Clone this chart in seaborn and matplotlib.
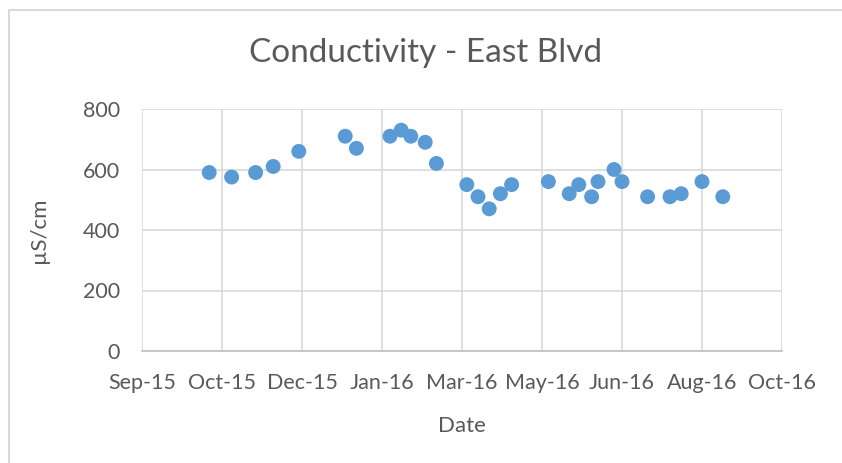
import matplotlib
matplotlib.use("Agg")
import matplotlib.pyplot as plt
import matplotlib.dates as mdates
from matplotlib.lines import Line2D
import seaborn as sns
import pandas as pd
import numpy as np

# sample dates and conductivity readings
dates = ["2015-10-13", "2015-10-27", "2015-11-11", "2015-11-22", "2015-12-08",
         "2016-01-06", "2016-01-13", "2016-02-03", "2016-02-10", "2016-02-16",
         "2016-02-25", "2016-03-03", "2016-03-22", "2016-03-29", "2016-04-05",
         "2016-04-12", "2016-04-19", "2016-05-12", "2016-05-25", "2016-05-31",
         "2016-06-08", "2016-06-12", "2016-06-22", "2016-06-27", "2016-07-13",
         "2016-07-27", "2016-08-03", "2016-08-16", "2016-08-29"]
conductivity = [590, 575, 590, 610, 660,
                710, 670, 710, 730, 710,
                690, 620, 550, 510, 470,
                520, 550, 560, 520, 550,
                510, 560, 600, 560, 510,
                510, 520, 560, 510]
y_ticks = [0, 200, 400, 600, 800]

df = pd.DataFrame({"Date": pd.to_datetime(dates), "uS": conductivity})

sns.set_style("white")
plt.rcParams["font.family"] = ["Lato", "DejaVu Sans"]
txt = "#595959"
grid = "#d9d9d9"

fig = plt.figure(figsize=(8.42, 4.63), dpi=100)
ax = fig.add_axes([142 / 842, (463 - 351) / 463, 640 / 842, 242 / 463])

sns.scatterplot(data=df, x="Date", y="uS", ax=ax, color="#5b9bd5",
                s=115, edgecolor="none", zorder=3)

# excel-style date axis: 50 day major unit from 1 Sep 2015
start = pd.Timestamp("2015-09-01")
xticks = [start + pd.Timedelta(days=50 * i) for i in range(9)]
ax.set_xlim(mdates.date2num(xticks[0]), mdates.date2num(xticks[-1]))
ax.set_xticks(mdates.date2num(xticks))
ax.set_xticklabels([t.strftime("%b-%y") for t in xticks])
ax.set_ylim(0, 800)
ax.set_yticks(y_ticks)

ax.grid(True, color=grid, linewidth=1.2)
for s in ["top", "right", "left"]:
    ax.spines[s].set_visible(False)
ax.spines["bottom"].set_color("#bfbfbf")
ax.spines["bottom"].set_linewidth(1.2)
ax.tick_params(axis="both", length=0, labelsize=15.5, colors=txt)
ax.tick_params(axis="x", pad=15.5)
ax.tick_params(axis="y", pad=16)

ax.set_xlabel("Date", fontsize=16, color=txt, labelpad=17)
ax.set_ylabel("µS/cm", fontsize=16, color=txt, labelpad=24)
fig.text(426 / 842, 1 - 53 / 463, "Conductivity - East Blvd", ha="center",
         va="center", fontsize=24, color=txt)

# chart area border (top and left visible)
fig.add_artist(Line2D([9 / 842, 1], [1 - 10 / 463, 1 - 10 / 463],
                      color=grid, linewidth=1.5, transform=fig.transFigure))
fig.add_artist(Line2D([9 / 842, 9 / 842], [0, 1 - 10 / 463],
                      color=grid, linewidth=1.5, transform=fig.transFigure))

fig.savefig("out.png", dpi=100)
